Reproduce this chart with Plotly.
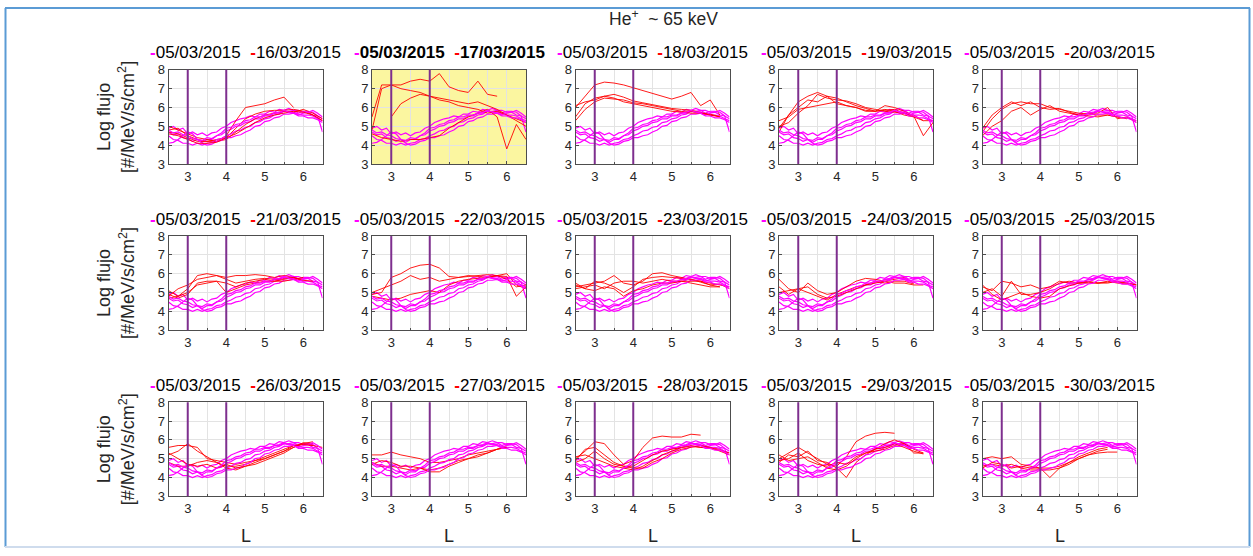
import plotly.graph_objects as go

# ---------------------------------------------------------------- data
REF_DAY = "05/03/2015"
EVENT_DAYS = ["16/03/2015", "17/03/2015", "18/03/2015", "19/03/2015", "20/03/2015",
              "21/03/2015", "22/03/2015", "23/03/2015", "24/03/2015", "25/03/2015",
              "26/03/2015", "27/03/2015", "28/03/2015", "29/03/2015", "30/03/2015"]
HIGHLIGHT_DAY = "17/03/2015"

X_TICKS = [3, 4, 5, 6]
Y_TICKS = [3, 4, 5, 6, 7, 8]
MARK_L = [3, 4]

# L sampling of the quiet-day passes
L_FINE = [2.5, 2.625, 2.75, 2.875, 3.0, 3.125, 3.25, 3.375, 3.5, 3.625, 3.75, 3.875,
          4.0, 4.125, 4.25, 4.375, 4.5, 4.625, 4.75, 4.875, 5.0, 5.125, 5.25, 5.375,
          5.5, 5.625, 5.75, 5.875, 6.0, 6.125, 6.25, 6.375, 6.5]
# L sampling of the storm-day passes
L_GRID = [2.5, 2.75, 3.0, 3.25, 3.5, 3.75, 4.0, 4.25, 4.5, 4.75, 5.0, 5.25, 5.5, 5.75,
          6.0, 6.25, 6.5]

# quiet day 05/03/2015 (log flux), one list per pass
quiet_1 = [4.9, 5.0, 4.8, 4.9, 4.6, 4.7, 4.55, 4.65, 4.5, 4.65, 4.7, 4.9, 5.0, 5.2, 5.3, 5.4,
           5.45, 5.55, 5.5, 5.65, 5.65, 5.8, 5.75, 5.9, 5.85, 5.95, 5.85, 5.85, 5.75, 5.75, 5.6, 5.55, 5.4]
quiet_2 = [4.7, 4.55, 4.6, 4.4, 4.35, 4.2, 4.3, 4.15, 4.3, 4.3, 4.5, 4.55, 4.75, 4.85, 5.0, 5.05,
           5.2, 5.25, 5.4, 5.4, 5.55, 5.55, 5.7, 5.7, 5.8, 5.8, 5.85, 5.7, 5.8, 5.8, 5.75, 5.55, 4.7]
quiet_3 = [4.5, 4.3, 4.25, 4.1, 4.1, 4.0, 4.1, 4.0, 4.1, 4.15, 4.3, 4.35, 4.5, 4.6, 4.75, 4.8,
           4.95, 5.0, 5.2, 5.25, 5.4, 5.45, 5.6, 5.65, 5.8, 5.75, 5.75, 5.65, 5.6, 5.6, 5.55, 5.4, 5.3]
quiet_4 = [4.1, 4.15, 4.3, 4.5, 4.7, 4.6, 4.3, 4.1, 4.0, 4.05, 4.2, 4.25, 4.4, 4.4, 4.5, 4.55,
           4.7, 4.8, 5.0, 5.05, 5.25, 5.3, 5.45, 5.5, 5.65, 5.65, 5.7, 5.6, 5.7, 5.75, 5.85, 5.7, 5.5]
quiet_5 = [4.8, 4.65, 4.7, 4.55, 4.5, 4.35, 4.3, 4.25, 4.4, 4.35, 4.5, 4.65, 4.9, 4.95, 5.1, 5.15,
           5.3, 5.35, 5.5, 5.5, 5.6, 5.6, 5.7, 5.75, 5.85, 5.75, 5.7, 5.55, 5.55, 5.45, 5.45, 5.35, 5.2]
QUIET = [quiet_1, quiet_2, quiet_3, quiet_4, quiet_5]

# storm days (log flux on L_GRID), one list per pass; None = no data
day_16 = [[4.8, 4.9, 4.5, 4.3, 4.2, 4.3, 4.4, 4.9, 5.4, 5.65, 5.8, 5.85, 5.85, 5.9, 5.8, 5.6, 5.3],
          [4.7, 4.6, 4.4, 4.2, 4.2, 4.2, 4.5, 5.3, 6.0, 6.1, 6.2, 6.4, 6.55, 6.0, None, None, None],
          [5.0, 4.8, 4.6, 4.4, 4.3, 4.2, 4.3, 4.7, 5.1, 5.4, 5.6, 5.7, 5.8, 5.75, 5.9, 5.7, 5.4],
          [4.6, 4.5, 4.3, 4.1, 4.1, 4.15, 4.4, 4.6, 4.9, 5.2, 5.45, 5.6, 5.7, 5.8, 5.75, 5.6, 5.3]]
day_17 = [[5.5, 7.2, 7.2, 7.2, 7.4, 7.5, 7.4, 7.8, 7.1, 6.9, 6.8, 7.4, 6.7, 6.6, None, None, None],
          [4.8, 7.0, 7.2, 7.0, 6.9, 6.8, 6.6, 6.5, 6.4, 6.3, 6.2, 6.3, 6.1, 5.9, 5.6, 5.4, 5.2],
          [None, None, 5.5, 6.2, 6.5, 6.7, 6.6, 6.4, 6.3, 6.1, 6.0, 5.9, 5.7, 5.8, 5.6, 5.3, 5.0],
          [4.6, 4.4, 4.3, 4.2, 4.3, 4.3, 4.4, 4.5, 4.9, 5.2, 5.5, 5.7, 5.9, 5.5, 3.8, 5.1, 4.3]]
day_18 = [[6.0, 6.6, 7.2, 7.35, 7.3, 7.2, 7.05, 6.9, 6.75, 6.6, 6.45, 6.6, 6.8, 6.1, 6.4, 5.6, None],
          [5.5, 6.2, 6.5, 6.6, 6.7, 6.55, 6.35, 6.25, 6.15, 6.05, 5.95, 5.9, 5.85, 5.75, 5.6, 5.55, None],
          [5.3, 5.9, 6.3, 6.5, 6.45, 6.4, 6.25, 6.2, 6.1, 6.0, 5.9, 5.8, 5.8, 5.7, 5.65, 5.5, None],
          [6.1, 6.3, 6.4, 6.6, 6.5, 6.3, 6.2, 6.1, 6.0, 5.9, 5.8, 5.75, 5.7, 5.7, 5.6, 5.5, None]]
day_19 = [[4.7, 5.6, 6.3, 6.6, 6.8, 6.6, 6.5, 6.3, 6.1, 5.95, 5.8, 5.85, 5.9, 5.7, 5.6, 5.3, 5.3],
          [4.9, 5.6, 6.0, 6.4, 6.3, 6.6, 6.2, 6.1, 6.0, 5.85, 5.8, 6.1, 6.0, 5.8, 5.55, 4.5, 5.2],
          [5.3, 5.5, 5.9, 6.0, 6.1, 6.2, 6.3, 6.1, 6.0, 5.8, 5.8, 5.9, 5.8, 5.6, 5.5, 5.3, None],
          [5.0, 5.2, 5.7, 6.1, 6.7, 6.5, 6.4, 6.35, 6.2, 6.0, 5.9, 5.8, 5.75, 5.7, 5.5, None, None]]
day_20 = [[4.7, 5.4, 5.9, 6.2, 6.3, 6.2, 6.2, 6.0, 5.9, 5.8, 5.7, 5.65, 5.6, 5.6, 5.5, 5.45, 5.3],
          [4.5, 5.0, 5.3, 5.8, 6.0, 5.6, 5.9, 6.1, 5.8, 5.7, 5.6, 5.7, 5.7, 6.0, 5.4, 5.5, 5.2],
          [4.9, 5.6, 6.0, 6.3, 6.1, 6.3, 6.0, 5.9, 5.95, 5.75, 5.6, 5.55, 5.5, 5.6, 5.5, 5.4, None]]
day_21 = [[5.1, 4.8, 5.2, 5.9, 6.0, 5.9, 5.8, 5.9, 5.9, 5.95, 5.9, 5.8, 5.9, 5.8, 5.7, None, None],
          [4.8, 5.2, 5.4, 5.7, 5.8, 5.9, 5.7, 5.5, 5.6, 5.7, 5.75, 5.7, 5.75, 5.8, 5.6, None, None],
          [4.9, 4.7, 4.9, 5.5, 5.6, 5.6, 5.0, 5.2, 5.4, 5.5, 5.6, 5.6, 5.7, 5.8, 5.65, 5.6, None],
          [4.7, 4.8, 5.0, 5.4, 5.5, 5.6, 5.5, 5.3, 5.5, 5.6, 5.7, 5.6, 5.6, 5.7, 5.8, None, None]]
day_22 = [[4.9, 5.0, 5.8, 6.0, 6.3, 6.45, 6.5, 6.3, 5.85, 5.8, 5.85, 5.9, 5.95, 5.9, 6.0, 5.4, 5.2],
          [5.0, 5.2, 5.4, 5.6, 5.9, 5.7, 5.8, 5.6, 5.7, 5.8, 5.9, 5.85, 5.8, 5.9, 5.7, 5.3, 5.4],
          [4.8, 4.7, 4.6, 4.7, 4.9, 5.0, 5.1, 5.0, 5.4, 5.6, 5.7, 5.75, 5.8, 5.9, 5.85, 4.8, 5.3]]
day_23 = [[5.3, 5.4, 5.5, 5.6, 5.9, 5.5, 5.4, 5.6, 6.0, 6.05, 5.9, 5.8, 5.7, 5.6, 5.5, 5.4, 5.3],
          [5.5, 5.2, 5.6, 5.5, 5.3, 5.0, 5.3, 5.7, 5.8, 5.85, 5.8, 5.75, 5.7, 5.55, 5.4, 5.45, 5.2],
          [5.2, 5.3, 5.4, 5.2, 5.5, 5.6, 5.6, 5.5, 5.6, 5.7, 5.6, 5.6, 5.5, 5.4, 5.3, 5.3, None],
          [5.4, 5.2, 5.1, 5.3, 5.2, 4.8, 5.1, 5.2, 5.4, 5.5, 5.5, 5.6, 5.6, 5.6, 5.4, 5.3, None]]
day_24 = [[5.7, 5.2, 5.0, 5.5, 5.1, 4.9, 5.0, 5.3, 5.6, 5.75, 5.7, 5.6, 5.7, 5.8, 5.5, None, None],
          [5.0, 5.1, 5.2, 5.3, 4.9, 4.7, 4.8, 5.0, 5.2, 5.4, 5.5, 5.6, 5.5, 5.5, 5.4, 5.4, None],
          [5.3, 4.9, 5.2, 5.0, 4.8, 4.6, 4.9, 5.1, 5.3, 5.4, 5.6, 5.5, 5.6, 5.6, 5.45, None, None]]
day_25 = [[5.3, 5.1, 5.6, 5.5, 5.3, 5.4, 5.2, 5.3, 5.6, 5.5, 5.5, 5.5, 5.5, 5.55, 5.55, 5.5, 5.4],
          [5.0, 5.2, 4.8, 5.6, 4.9, 4.9, 5.0, 5.2, 5.5, 5.6, 5.5, 5.6, 5.5, 5.5, 5.6, 5.5, 5.4],
          [5.4, 4.9, 4.6, 4.8, 5.0, 4.8, 4.7, 4.8, 5.2, 5.35, 5.5, 5.55, 5.5, 5.6, 5.5, 5.45, None]]
day_26 = [[5.6, 5.7, 5.7, 5.6, 5.0, 4.9, 4.8, 4.7, 4.8, 4.9, 5.1, 5.3, 5.5, 5.7, 5.8, 5.9, None],
          [5.2, 5.4, 5.8, 5.4, 5.1, 4.8, 4.6, 4.6, 4.7, 4.9, 5.0, 5.2, 5.4, 5.6, 5.8, 5.7, 5.6],
          [4.8, 4.6, 4.6, 4.8, 4.9, 4.8, 4.5, 4.4, 4.6, 4.7, 4.9, 5.1, 5.3, 5.6, 5.85, 5.8, None],
          [5.3, 5.0, 4.7, 4.6, 4.7, 4.5, 4.7, 4.5, 4.6, 4.8, 5.0, 5.2, 5.4, 5.7, 5.75, 5.7, None]]
day_27 = [[5.2, 5.2, 5.35, 5.2, 5.1, 5.0, 4.8, 4.8, 4.9, 5.0, 5.2, 5.3, 5.4, 5.5, 5.6, None, None],
          [4.7, 4.9, 4.8, 4.6, 4.6, 4.5, 4.4, 4.5, 4.7, 4.9, 5.0, 5.2, 5.3, 5.5, 5.7, None, None],
          [4.8, 4.6, 4.6, 4.5, 4.4, 4.5, 4.3, 4.3, 4.6, 4.8, 5.0, 5.1, 5.3, 5.5, 5.6, None, None]]
day_28 = [[5.0, 5.4, 5.9, 5.8, 5.2, 4.7, 4.9, 5.6, 6.1, 6.2, 6.15, 6.15, 6.3, 6.25, None, None, None],
          [4.9, 5.5, 5.6, 5.2, 4.8, 4.6, 4.6, 4.9, 5.2, 5.4, 5.5, 5.6, 5.7, 5.6, 5.6, 5.5, 5.2],
          [5.1, 5.2, 5.0, 4.8, 4.6, 4.5, 4.4, 4.6, 4.9, 5.2, 5.4, 5.6, 5.65, 5.6, 5.55, 5.45, 5.3],
          [4.8, 5.0, 5.4, 5.0, 4.7, 4.6, 4.5, 4.5, 4.8, 5.0, 5.3, 5.5, 5.6, 5.7, 5.6, 5.4, 5.2]]
day_29 = [[5.0, 5.3, 5.6, 5.3, 5.0, 4.7, 4.6, 5.1, 5.9, 6.2, 6.35, 6.4, 6.35, None, None, None, None],
          [4.8, 5.2, 5.1, 5.4, 4.9, 4.8, 4.5, 4.0, 4.8, 5.2, 5.5, 5.8, 6.0, 5.8, 5.3, 5.3, None],
          [5.2, 4.9, 5.0, 5.1, 4.8, 4.5, 4.4, 4.6, 5.0, 5.3, 5.4, 5.5, 5.7, 5.8, 5.5, 5.3, None],
          [4.9, 5.0, 5.3, 4.9, 4.7, 4.6, 4.8, 4.7, 5.1, 5.3, 5.5, 5.6, 5.8, 5.6, 5.4, 5.25, None]]
day_30 = [[5.0, 5.1, 5.0, 5.1, 4.7, 4.6, 4.5, 4.5, 4.6, 4.8, 5.1, 5.3, 5.5, 5.6, None, None, None],
          [4.6, 4.7, 4.6, 4.7, 4.5, 4.4, 4.4, 4.4, 4.5, 4.8, 5.0, 5.2, 5.3, 5.35, 5.35, None, None],
          [4.5, 4.8, 4.7, 4.5, 4.6, 4.5, 4.5, 4.0, 4.5, 4.7, 5.0, 5.2, 5.4, 5.5, None, None, None]]
STORM = [day_16, day_17, day_18, day_19, day_20, day_21, day_22, day_23,
         day_24, day_25, day_26, day_27, day_28, day_29, day_30]

# ---------------------------------------------------------------- style
W, H = 1253, 556
FONT = "Arial, 'Liberation Sans', Helvetica, sans-serif"
MAGENTA = "#ff00ff"
RED = "#ff0000"
PURPLE = "#7e2f8e"
HILITE_BG = "#fbf6a0"
INK = "#262626"
GRID = "#e3e3e3"
BOX = "#4d4d4d"

N_COLS, N_ROWS = 5, 3
COL_LEFT, COL_STEP, AX_W = 168.5, 203.5, 154.0   # screen pixels
ROW_TOP = [70.0, 236.0, 402.0]
AX_H = 94.0
# vertical screen placement: screen_row = Y_SHIFT + Y_SCALE * figure_row
Y_SHIFT, Y_SCALE = 7.2, 0.972


def px_x(v):
    """screen column -> paper fraction"""
    return v / W


def px_y(v):
    """screen row -> paper fraction"""
    return 1 - ((v - Y_SHIFT) / Y_SCALE) / H


fig = go.Figure()
shapes, annotations = [], []

for k, day in enumerate(EVENT_DAYS):
    r, c = divmod(k, N_COLS)
    n = k + 1
    sfx = "" if n == 1 else str(n)
    xa, ya = "x" + sfx, "y" + sfx
    left = COL_LEFT + c * COL_STEP
    top = ROW_TOP[r]
    highlight = day == HIGHLIGHT_DAY

    storm = STORM[k]
    for j in range(max(len(QUIET), len(storm))):
        if j < len(QUIET):
            fig.add_trace(go.Scatter(x=L_FINE, y=QUIET[j], mode="lines", xaxis=xa, yaxis=ya,
                                     line=dict(color=MAGENTA, width=1.2), connectgaps=False,
                                     showlegend=False, hoverinfo="skip"))
        if j < len(storm):
            fig.add_trace(go.Scatter(x=L_GRID, y=storm[j], mode="lines", xaxis=xa, yaxis=ya,
                                     line=dict(color=RED, width=0.9), connectgaps=False,
                                     showlegend=False, hoverinfo="skip"))

    axis_common = dict(showline=True, mirror=True, linecolor=BOX, linewidth=1,
                       showgrid=True, gridcolor=GRID, gridwidth=1, zeroline=False,
                       ticks="inside", ticklen=3, tickcolor=BOX,
                       tickfont=dict(family=FONT, size=13, color=INK), fixedrange=True)
    fig.update_layout(**{
        ("xaxis" + sfx): dict(axis_common, domain=[px_x(left), px_x(left + AX_W)],
                              range=[2.5, 6.5], tickmode="array", tickvals=X_TICKS,
                              minor=dict(dtick=0.5, tick0=2.5, showgrid=True, gridcolor=GRID,
                                         ticks="inside", ticklen=2, tickcolor=BOX),
                              anchor=ya),
        ("yaxis" + sfx): dict(axis_common, domain=[px_y(top + AX_H), px_y(top)],
                              range=[3, 8], tickmode="array", tickvals=Y_TICKS, anchor=xa),
    })

    if highlight:
        shapes.append(dict(type="rect", xref=xa + " domain", yref=ya + " domain",
                           x0=0, x1=1, y0=0, y1=1, fillcolor=HILITE_BG,
                           line=dict(width=0), layer="below"))
    for lv in MARK_L:
        shapes.append(dict(type="line", xref=xa, yref=ya + " domain", x0=lv, x1=lv,
                           y0=0, y1=1, line=dict(color=PURPLE, width=2)))

    # legend line above the panel
    b0, b1 = ("<b>", "</b>") if highlight else ("", "")
    dash = "<b><span style='color:{}'>-</span></b>"
    legend_txt = (dash.format(MAGENTA) + f"{b0}{REF_DAY}{b1}&nbsp;&nbsp;"
                  + dash.format(RED) + f"{b0}{day}{b1}")
    annotations.append(dict(text=legend_txt, xref="paper", yref="paper",
                            x=px_x(left + AX_W / 2), y=px_y(top - 17), xanchor="center",
                            yanchor="middle", showarrow=False,
                            font=dict(family=FONT, size=17, color="#000000")))

    if c == 0:
        ymid = px_y(top + AX_H / 2)
        annotations.append(dict(text="Log flujo", xref="paper", yref="paper",
                                x=px_x(104), y=ymid, textangle=-90, showarrow=False,
                                xanchor="center", yanchor="middle",
                                font=dict(family=FONT, size=18, color=INK)))
        annotations.append(dict(text="[#/MeV/s/cm<sup>2</sup>]", xref="paper", yref="paper",
                                x=px_x(127), y=ymid, textangle=-90, showarrow=False,
                                xanchor="center", yanchor="middle",
                                font=dict(family=FONT, size=18, color=INK)))
    if r == N_ROWS - 1:
        annotations.append(dict(text="L", xref="paper", yref="paper",
                                x=px_x(left + AX_W / 2), y=px_y(536), showarrow=False,
                                xanchor="center", yanchor="middle",
                                font=dict(family=FONT, size=18, color=INK)))

annotations.append(dict(text="He<sup>+</sup>  ~ 65 keV", xref="paper", yref="paper",
                        x=px_x(663), y=px_y(18), showarrow=False, xanchor="center",
                        yanchor="middle", font=dict(family=FONT, size=17.5, color=INK)))

# window frame along the figure edge
frame = "#5b9bd5"
top_edge, bottom_edge = 1 - 1.0 / H, 1.0 / H
shapes += [
    dict(type="line", xref="paper", yref="paper", x0=px_x(5), x1=px_x(1250),
         y0=top_edge, y1=top_edge, line=dict(color=frame, width=2)),
    dict(type="line", xref="paper", yref="paper", x0=px_x(5.5), x1=px_x(5.5),
         y0=bottom_edge, y1=top_edge, line=dict(color=frame, width=2)),
    dict(type="line", xref="paper", yref="paper", x0=px_x(1249.5), x1=px_x(1249.5),
         y0=bottom_edge, y1=top_edge, line=dict(color=frame, width=2)),
    dict(type="line", xref="paper", yref="paper", x0=px_x(5), x1=px_x(1250),
         y0=bottom_edge, y1=bottom_edge, line=dict(color="#cfdced", width=2)),
]

fig.update_layout(width=W, height=H, margin=dict(l=0, r=0, t=0, b=0),
                  paper_bgcolor="white", plot_bgcolor="white",
                  shapes=shapes, annotations=annotations, showlegend=False,
                  font=dict(family=FONT))

fig.write_html("out.html", config={"displayModeBar": False})
